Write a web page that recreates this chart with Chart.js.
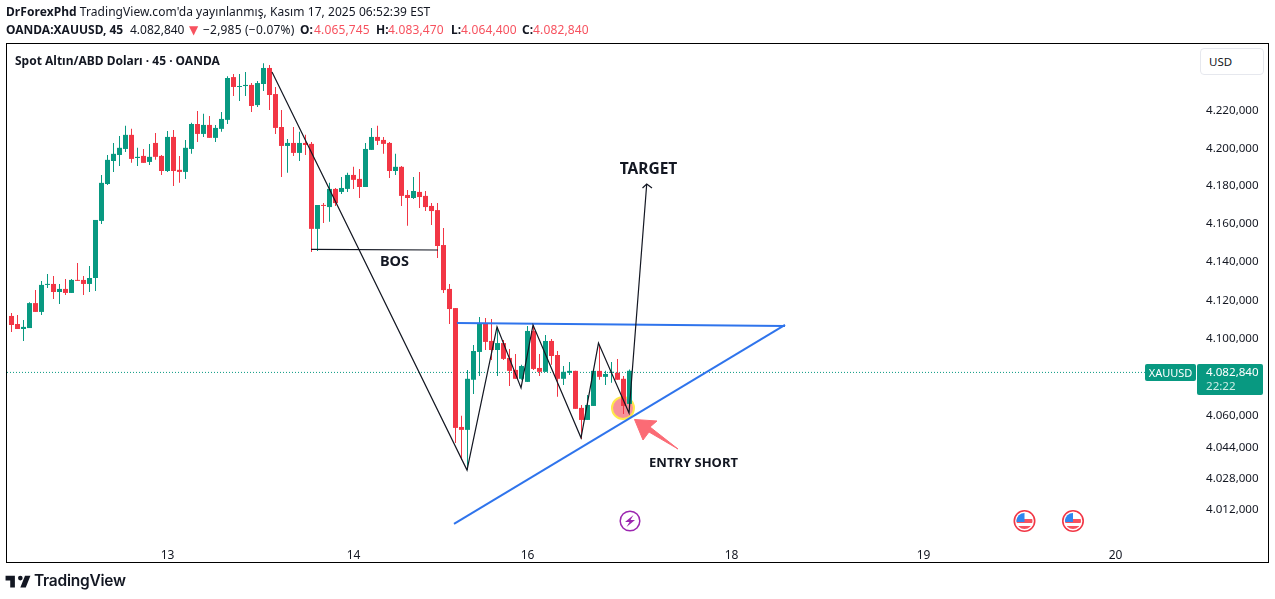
<!DOCTYPE html>
<html>
<head>
<meta charset="utf-8">
<script src="https://cdn.jsdelivr.net/npm/chart.js@4"></script>
<style>
    body { margin: 0; background: #fff; width: 1275px; height: 599px; overflow: hidden; position: relative; font-family: "Noto Sans", sans-serif; color: #131722; }
    canvas { position: absolute; left: 0; top: 0; }
    .t { position: absolute; white-space: nowrap; font-size: 12px; line-height: 16px; }
    .red { color: #f7525f; }
    #frame { position: absolute; left: 6px; top: 43px; width: 1261px; height: 518px; border: 1px solid #000; }
    #usd { position: absolute; left: 1200px; top: 48px; width: 54px; height: 25px; padding-left: 8px; border: 1px solid #e6e8ee; border-radius: 4px; font-size: 11.5px; line-height: 25px; background: #fff; }
</style>
</head>
<body>
<canvas id="chart" width="1275" height="599"></canvas>
<div id="frame"></div>
<div class="t" style="left:6px;top:4px;letter-spacing:0.06px"><b>DrForexPhd</b> TradingView.com'da yayınlanmış, Kasım 17, 2025 06:52:39 EST</div>
<div class="t" style="left:6px;top:22px"><b>OANDA:XAUUSD, 45</b></div>
<div class="t" style="left:130px;top:22px">4.082,840</div>
<div class="t red" style="left:189px;top:22px;font-family:'DejaVu Sans';font-size:12px">▼</div>
<div class="t" style="left:203px;top:22px;letter-spacing:0.2px">−2,985 (−0.07%)</div>
<div class="t" style="left:300px;top:22px"><b>O:</b></div>
<div class="t red" style="left:314px;top:22px;letter-spacing:0.15px">4.065,745</div>
<div class="t" style="left:376px;top:22px"><b>H:</b></div>
<div class="t red" style="left:388px;top:22px;letter-spacing:0.15px">4.083,470</div>
<div class="t" style="left:451px;top:22px"><b>L:</b></div>
<div class="t red" style="left:461px;top:22px;letter-spacing:0.15px">4.064,400</div>
<div class="t" style="left:522px;top:22px"><b>C:</b></div>
<div class="t red" style="left:533px;top:22px;letter-spacing:0.15px">4.082,840</div>
<div class="t" style="left:15px;top:53px"><b>Spot Altın/ABD Doları · 45 · OANDA</b></div>
<div id="usd">USD</div>
<svg style="position:absolute;left:4px;top:571px" width="28" height="22" viewBox="0 0 36 28"><path fill="#131722" d="M14 6H2v6h6v9h6V6zm14 15h-7l6-15h7l-6 15zm-7-9a3 3 0 1 0 0-6 3 3 0 0 0 0 6z"/></svg>
<div class="t" style="left:34px;top:571px;font:600 15.5px/19px Inter,sans-serif;letter-spacing:-0.25px">TradingView</div>
<script>
// candles, 45 min
const opens = [
    4111.3, 4107.1, 4104.5, 4105.0, 4118.0, 4113.4, 4127.5, 4128.0, 4123.8, 4125.4,
    4123.3, 4130.1, 4130.1, 4128.0, 4131.1, 4161.1, 4180.6, 4192.8, 4196.0, 4199.2,
    4206.7, 4194.4, 4195.5, 4192.3, 4202.4, 4195.5, 4187.5, 4205.6, 4188.1, 4187.0,
    4199.2, 4212.5, 4207.2, 4212.0, 4205.1, 4209.9, 4214.7, 4237.6, 4232.3, 4232.8,
    4233.4, 4222.6, 4233.9, 4242.5, 4228.5, 4210.9, 4200.8, 4202.4, 4197.1, 4202.4,
    4201.9, 4156.9, 4169.5, 4168.4, 4178.0, 4176.4, 4178.0, 4185.4, 4183.3, 4179.0,
    4198.7, 4205.6, 4204.0, 4202.4, 4187.5, 4189.7, 4174.8, 4173.2, 4176.4, 4174.3,
    4169.0, 4166.8, 4148.4, 4125.4, 4115.4, 4053.9, 4052.4, 4078.2, 4092.6, 4107.6,
    4098.3, 4093.6, 4097.2, 4089.5, 4083.3, 4078.7, 4077.1, 4103.5, 4084.3, 4082.3,
    4098.3, 4091.0, 4078.7, 4081.8, 4082.8, 4063.7, 4057.5, 4064.7, 4082.8, 4079.7,
    4081.8, 4081.8, 4078.7, 4065.745
];
const highs = [
    4112.9, 4111.8, 4109.2, 4118.5, 4124.8, 4129.6, 4133.2, 4132.2, 4128.0, 4130.6,
    4130.6, 4139.0, 4132.2, 4137.4, 4161.6, 4185.4, 4196.0, 4202.4, 4206.1, 4211.5,
    4209.9, 4199.8, 4199.2, 4201.9, 4207.7, 4196.0, 4208.8, 4209.3, 4195.5, 4204.0,
    4213.1, 4219.5, 4217.9, 4216.8, 4212.0, 4218.9, 4238.1, 4239.2, 4239.2, 4240.3,
    4234.4, 4235.5, 4245.1, 4244.1, 4232.3, 4220.0, 4204.5, 4210.9, 4208.3, 4206.7,
    4202.9, 4169.5, 4170.5, 4181.2, 4178.5, 4184.3, 4186.5, 4189.7, 4188.6, 4202.4,
    4210.4, 4211.5, 4205.6, 4202.9, 4196.6, 4190.2, 4177.4, 4184.3, 4187.0, 4176.9,
    4170.5, 4170.5, 4157.4, 4128.0, 4115.4, 4059.6, 4083.3, 4096.2, 4110.8, 4110.2,
    4109.7, 4105.6, 4098.8, 4094.1, 4091.5, 4085.9, 4106.1, 4106.6, 4091.5, 4101.4,
    4099.3, 4093.1, 4085.3, 4087.4, 4082.8, 4065.2, 4070.4, 4082.8, 4096.2, 4082.8,
    4087.4, 4089.0, 4080.2, 4083.47
];
const lows = [
    4103.0, 4104.5, 4098.3, 4105.0, 4113.4, 4111.8, 4125.9, 4120.1, 4117.5, 4122.2,
    4123.3, 4129.6, 4122.2, 4123.8, 4124.3, 4159.5, 4180.1, 4187.0, 4190.2, 4197.6,
    4191.8, 4190.2, 4191.8, 4190.7, 4193.4, 4185.4, 4187.0, 4179.6, 4181.2, 4183.3,
    4196.6, 4202.9, 4205.6, 4205.1, 4202.9, 4208.3, 4212.5, 4227.5, 4224.8, 4227.5,
    4218.9, 4221.6, 4230.2, 4220.0, 4207.2, 4184.3, 4186.5, 4195.5, 4192.8, 4196.0,
    4144.7, 4145.3, 4160.0, 4160.6, 4169.0, 4175.3, 4176.4, 4178.0, 4173.2, 4179.0,
    4198.7, 4201.3, 4196.6, 4183.8, 4185.4, 4169.0, 4158.5, 4172.7, 4167.9, 4166.3,
    4159.0, 4141.6, 4123.3, 4107.1, 4045.7, 4036.9, 4031.8, 4070.9, 4080.2, 4093.6,
    4088.4, 4080.2, 4088.4, 4075.0, 4078.7, 4078.2, 4077.1, 4083.3, 4080.2, 4082.3,
    4085.9, 4069.4, 4075.5, 4080.7, 4063.2, 4047.7, 4057.5, 4064.7, 4078.2, 4075.5,
    4076.6, 4078.2, 4060.6, 4064.4
];
const closes = [
    4106.6, 4104.5, 4105.6, 4118.0, 4113.4, 4127.5, 4128.0, 4123.8, 4125.4, 4123.3,
    4130.1, 4129.6, 4128.0, 4131.1, 4161.6, 4181.2, 4193.4, 4196.6, 4199.8, 4206.7,
    4193.9, 4195.0, 4191.8, 4195.0, 4195.0, 4187.5, 4205.6, 4187.5, 4187.0, 4199.8,
    4212.5, 4207.2, 4212.0, 4205.1, 4210.4, 4215.2, 4237.1, 4232.3, 4232.8, 4233.4,
    4222.1, 4234.4, 4242.5, 4228.0, 4210.4, 4200.8, 4202.4, 4197.1, 4202.4, 4201.3,
    4156.9, 4169.5, 4169.0, 4178.0, 4170.5, 4178.5, 4185.4, 4182.8, 4179.0, 4199.2,
    4205.6, 4203.5, 4201.9, 4187.5, 4189.7, 4174.3, 4173.2, 4176.9, 4173.7, 4168.4,
    4166.3, 4147.9, 4124.8, 4114.9, 4053.4, 4052.4, 4078.7, 4093.1, 4107.6, 4097.8,
    4093.6, 4097.2, 4089.0, 4082.8, 4078.7, 4085.3, 4103.5, 4083.8, 4082.3, 4098.3,
    4090.5, 4078.7, 4082.3, 4082.8, 4063.2, 4057.5, 4065.2, 4082.8, 4079.7, 4081.2,
    4082.3, 4078.2, 4064.7, 4082.84
];

// price axis, log scale like the original
const priceTicks = [4220, 4200, 4180, 4160, 4140, 4120, 4100, 4060, 4044, 4028, 4012];
const dayLabels = ['13', '14', '16', '18', '19', '20'];
const dayBars = [26, 57, 86, 120, 152, 184];
const lastPriceLine = 4082.0;

// hand drawn lines on the chart, in bar number / price
const zigzagX = [43.42, 75.92, 80.92, 84.92, 86.92, 94.92, 97.83, 102.92, 105.87];
const zigzagY = [4240.3, 4031.8, 4105.6, 4074.0, 4106.6, 4048.3, 4097.2, 4061.1, 4180.6];
const arrowHeadX = [105.17, 105.87, 106.75];
const arrowHeadY = [4178.5, 4180.6, 4178.5];
const bosX = [49.92, 71.08];
const bosY = [4146.1, 4145.8];
const topLineX = [74.25, 128.92];
const topLineY = [4107.6, 4106.1];
const riseLineX = [73.75, 128.92];
const riseLineY = [4004.4, 4106.6];

const green = '#089981';
const red = '#f23645';
const candleColors = closes.map((c, i) => (c >= opens[i] ? green : red));

function pts(xs, ys) {
    return xs.map((x, i) => ({ x: x, y: ys[i] }));
}

function fmtPrice(v) {
    return Math.floor(v / 1000) + '.' + String(Math.round(v % 1000)).padStart(3, '0') + ',000';
}

function lineSet(data, color, width, extra) {
    return Object.assign({
        type: 'line', data: data, borderColor: color, borderWidth: width,
        pointRadius: 0, tension: 0, fill: false, order: 1
    }, extra || {});
}

function roundBox(ctx, x, y, w, h, fill) {
    ctx.fillStyle = fill;
    ctx.beginPath();
    ctx.roundRect(x, y, w, h, 2);
    ctx.fill();
}

function flagIcon(ctx, x, y) {
    ctx.save();
    ctx.strokeStyle = '#f23645';
    ctx.lineWidth = 1.6;
    ctx.beginPath();
    ctx.arc(x, y, 10.2, 0, Math.PI * 2);
    ctx.stroke();
    ctx.beginPath();
    ctx.arc(x, y, 8, 0, Math.PI * 2);
    ctx.clip();
    ctx.fillStyle = '#fff';
    ctx.fillRect(x - 9, y - 9, 18, 18);
    ctx.fillStyle = '#f7525f';
    ctx.fillRect(x - 9, y - 2, 18, 4);
    ctx.fillRect(x - 9, y + 5, 18, 4);
    ctx.fillStyle = '#2e86f0';
    ctx.fillRect(x - 9, y - 9, 9, 10);
    ctx.restore();
}

function boltIcon(ctx, x, y) {
    ctx.strokeStyle = '#9c27b0';
    ctx.lineWidth = 1.5;
    ctx.beginPath();
    ctx.arc(x, y, 9.8, 0, Math.PI * 2);
    ctx.stroke();
    ctx.fillStyle = '#9c27b0';
    ctx.beginPath();
    ctx.moveTo(x + 3.5, y - 6);
    ctx.lineTo(x - 5, y + 1);
    ctx.lineTo(x - 0.5, y + 1);
    ctx.lineTo(x - 3.5, y + 6);
    ctx.lineTo(x + 5, y - 1);
    ctx.lineTo(x + 0.5, y - 1);
    ctx.closePath();
    ctx.fill();
}

// circle goes under the candles, the rest on top
const marksPlugin = {
    id: 'marks',
    beforeDatasetsDraw(chart) {
        const ctx = chart.ctx;
        ctx.save();
        ctx.fillStyle = 'rgba(242,54,69,0.55)';
        ctx.strokeStyle = '#ffe94a';
        ctx.lineWidth = 2;
        ctx.beginPath();
        ctx.arc(623, 408, 11, 0, Math.PI * 2);
        ctx.fill();
        ctx.stroke();
        ctx.restore();
    },
    afterDraw(chart) {
        const ctx = chart.ctx;
        ctx.save();

        // entry arrow
        ctx.fillStyle = '#fb6b75';
        ctx.strokeStyle = '#fb6b75';
        ctx.lineWidth = 1;
        ctx.lineJoin = 'round';
        ctx.beginPath();
        ctx.moveTo(634.5, 419.5);
        ctx.lineTo(657, 421);
        ctx.lineTo(650, 427);
        ctx.lineTo(678, 449);
        ctx.lineTo(649, 432);
        ctx.lineTo(643, 440);
        ctx.closePath();
        ctx.fill();
        ctx.stroke();

        ctx.fillStyle = '#131722';
        ctx.textAlign = 'center';
        ctx.textBaseline = 'middle';
        ctx.font = 'bold 15.5px "Noto Sans"';
        ctx.fillText('TARGET', 648.5, 169.5);
        ctx.font = 'bold 14.5px "Noto Sans"';
        ctx.fillText('BOS', 394.5, 261.5);
        ctx.font = 'bold 13px "Noto Sans"';
        ctx.fillText('ENTRY SHORT', 693.5, 463.5);

        boltIcon(ctx, 630, 521);
        flagIcon(ctx, 1024.5, 521);
        flagIcon(ctx, 1073, 521);

        // last price tags
        roundBox(ctx, 1145, 364, 51, 17, green);
        roundBox(ctx, 1197, 364, 66, 31, green);
        ctx.fillStyle = '#fff';
        ctx.font = '11px "Noto Sans"';
        ctx.fillText('XAUUSD', 1170.5, 373.5);
        ctx.textAlign = 'left';
        ctx.font = '11.6px "Noto Sans"';
        ctx.fillText('4.082,840', 1206, 373);
        ctx.fillStyle = '#cdeee6';
        ctx.fillText('22:22', 1206, 387);
        ctx.restore();
    }
};

new Chart(document.getElementById('chart').getContext('2d'), {
    type: 'bar',
    data: {
        datasets: [
            {
                label: 'wicks',
                data: lows.map((l, i) => ({ x: i, y: [l, highs[i]] })),
                backgroundColor: candleColors,
                grouped: false,
                barPercentage: 1,
                categoryPercentage: 1,
                maxBarThickness: 1,
                inflateAmount: 0,
                minBarLength: 1,
                order: 3
            },
            {
                label: 'bodies',
                data: opens.map((o, i) => ({ x: i, y: [o, closes[i]] })),
                backgroundColor: candleColors,
                grouped: false,
                barPercentage: 1,
                categoryPercentage: 1,
                maxBarThickness: 5,
                inflateAmount: 0,
                minBarLength: 1,
                order: 2
            },
            lineSet(pts([-0.75, 188.9], [lastPriceLine, lastPriceLine]), green, 1, { borderDash: [1, 2], order: 4 }),
            lineSet(pts(zigzagX, zigzagY), '#131722', 1.2),
            lineSet(pts(arrowHeadX, arrowHeadY), '#131722', 1.2),
            lineSet(pts(bosX, bosY), '#131722', 1.2),
            lineSet(pts(topLineX, topLineY), '#2f74ec', 2),
            lineSet(pts(riseLineX, riseLineY), '#2f74ec', 2)
        ]
    },
    options: {
        responsive: false,
        animation: false,
        layout: { padding: { left: 7, right: 7, top: 44, bottom: 38 } },
        plugins: { legend: { display: false }, tooltip: { enabled: false } },
        scales: {
            x: {
                type: 'linear',
                offset: false,
                min: -0.75,
                max: 197.5833,
                grid: { display: false, offset: false },
                border: { display: false },
                afterBuildTicks: s => { s.ticks = dayBars.map(v => ({ value: v })); },
                afterFit: s => { s.height = 28; },
                ticks: {
                    autoSkip: false,
                    maxRotation: 0,
                    padding: 7,
                    color: '#131722',
                    font: { family: '"Noto Sans"', size: 12 },
                    callback: v => dayLabels[dayBars.indexOf(v)]
                }
            },
            y: {
                type: 'logarithmic',
                position: 'right',
                bounds: 'data',
                min: 3999.8,
                max: 4255.4,
                beginAtZero: false,
                grid: { display: false },
                border: { display: false },
                afterBuildTicks: s => { s.ticks = priceTicks.map(v => ({ value: v })); },
                afterFit: s => { s.width = 71; },
                ticks: {
                    autoSkip: false,
                    padding: 1,
                    crossAlign: 'near',
                    color: '#131722',
                    // blank first line + small line height nudges the text down
                    font: { family: '"Noto Sans"', size: 11.6, lineHeight: 0.17 },
                    callback: v => ['', fmtPrice(v)]
                }
            }
        }
    },
    plugins: [marksPlugin]
});
</script>
</body>
</html>
